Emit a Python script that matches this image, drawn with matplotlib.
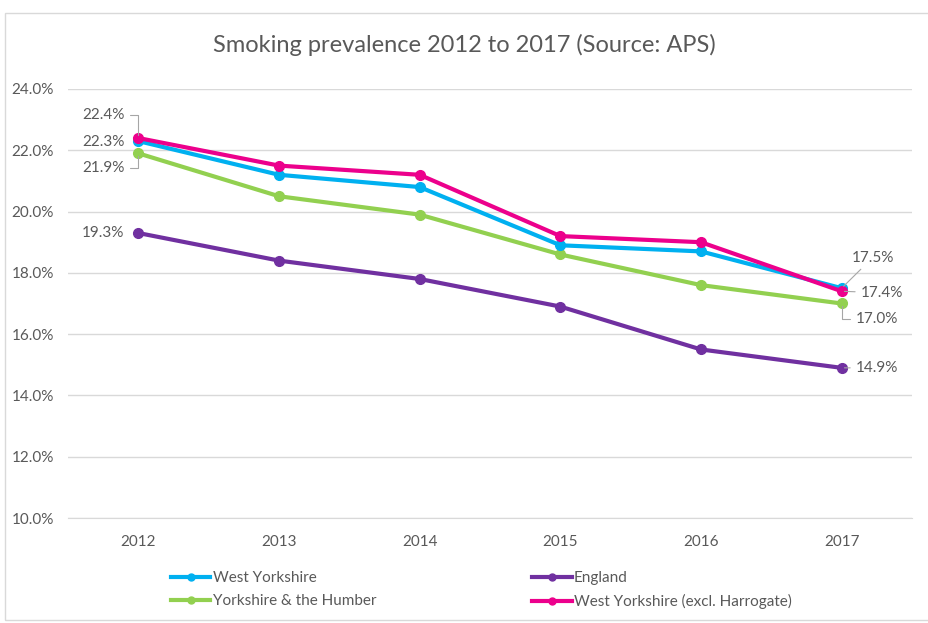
import matplotlib.pyplot as plt
from matplotlib.patches import Rectangle
from matplotlib.lines import Line2D

# -------------------------
# Data
# -------------------------
years = ["2012", "2013", "2014", "2015", "2016", "2017"]
west_yorkshire = [22.3, 21.2, 20.8, 18.9, 18.7, 17.5]
england = [19.3, 18.4, 17.8, 16.9, 15.5, 14.9]
yorks_humber = [21.9, 20.5, 19.9, 18.6, 17.6, 17.0]
wy_excl_harrogate = [22.4, 21.5, 21.2, 19.2, 19.0, 17.4]

y_ticks = [10, 12, 14, 16, 18, 20, 22, 24]

plt.rcParams["font.family"] = ["Lato", "DejaVu Sans"]
text_col = "#595959"

fig = plt.figure(figsize=(9.29, 6.23), dpi=100)
ax = fig.add_axes([68 / 929, 1 - 518 / 623, (912 - 68) / 929, (518 - 89) / 623])

# chart border
fig.patches.append(Rectangle((5 / 929, 3 / 623), 930 / 929, 607 / 623,
                             transform=fig.transFigure, fill=False,
                             edgecolor="#d9d9d9", linewidth=1))

x = list(range(len(years)))
series = [
    ("West Yorkshire", west_yorkshire, "#00b0f0"),
    ("England", england, "#7030a0"),
    ("Yorkshire & the Humber", yorks_humber, "#92d050"),
    ("West Yorkshire (excl. Harrogate)", wy_excl_harrogate, "#ec008c"),
]
for name, vals, col in [series[2], series[1], series[0], series[3]]:
    ax.plot(x, vals, color=col, linewidth=3, marker="o", markersize=7, label=name, zorder=3)

ax.set_xlim(-0.5, 5.5)
ax.set_ylim(10, 24)
ax.set_yticks(y_ticks)
ax.set_yticklabels([f"{v:.1f}%" for v in y_ticks])
ax.set_xticks(x)
ax.set_xticklabels(years)
ax.grid(axis="y", color="#d9d9d9", linewidth=1)
ax.set_axisbelow(True)
for s in ["top", "right", "left"]:
    ax.spines[s].set_visible(False)
ax.spines["bottom"].set_color("#d9d9d9")
ax.tick_params(length=0, colors=text_col, labelsize=11)
ax.tick_params(axis="x", pad=12)
ax.tick_params(axis="y", pad=10)

fig.text(0.5, 1 - 45 / 623, "Smoking prevalence 2012 to 2017 (Source: APS)",
         ha="center", va="center", fontsize=17, color=text_col)

# -------------------------
# Data labels with leader lines
# -------------------------
lead = dict(arrowstyle="-", color="#a6a6a6", linewidth=0.8)
lab = dict(fontsize=11, color=text_col, va="center")
elbow = dict(connectionstyle="angle,angleA=0,angleB=90,rad=0", **lead)

ax.annotate(f"{wy_excl_harrogate[0]:.1f}%", xy=(0, wy_excl_harrogate[0]),
            xytext=(-0.1, 23.15), ha="right", arrowprops=elbow, **lab)
ax.annotate(f"{west_yorkshire[0]:.1f}%", xy=(0, west_yorkshire[0]),
            xytext=(-0.1, 22.27), ha="right", **lab)
ax.annotate(f"{yorks_humber[0]:.1f}%", xy=(0, yorks_humber[0]),
            xytext=(-0.1, 21.42), ha="right", arrowprops=elbow, **lab)
ax.annotate(f"{england[0]:.1f}%", xy=(0, england[0]),
            xytext=(-0.1, england[0]), ha="right", **lab)

ax.annotate(f"{west_yorkshire[5]:.1f}%", xy=(5, west_yorkshire[5]),
            xytext=(5.07, 18.5), ha="left", arrowprops=lead, **lab)
ax.annotate(f"{wy_excl_harrogate[5]:.1f}%", xy=(5, wy_excl_harrogate[5]),
            xytext=(5.135, 17.35), ha="left", arrowprops=lead, **lab)
ax.annotate(f"{yorks_humber[5]:.1f}%", xy=(5, yorks_humber[5]),
            xytext=(5.1, 16.5), ha="left", arrowprops=elbow, **lab)
ax.annotate(f"{england[5]:.1f}%", xy=(5, england[5]),
            xytext=(5.1, england[5]), ha="left", arrowprops=lead, **lab)

# -------------------------
# Legend
# -------------------------
handles = [Line2D([], [], color=c, linewidth=3, marker="o", markersize=5) for _, _, c in series]
names = [n for n, _, _ in series]
order = [0, 2, 1, 3]
leg = fig.legend([handles[i] for i in order], [names[i] for i in order],
                 loc="center left", bbox_to_anchor=(157 / 929, 1 - 590 / 623),
                 ncol=2, frameon=False, fontsize=11, handlelength=2.6,
                 handletextpad=0.15, columnspacing=10.2, labelspacing=0.6)
for t in leg.get_texts():
    t.set_color(text_col)

fig.savefig("out.png", dpi=100)
